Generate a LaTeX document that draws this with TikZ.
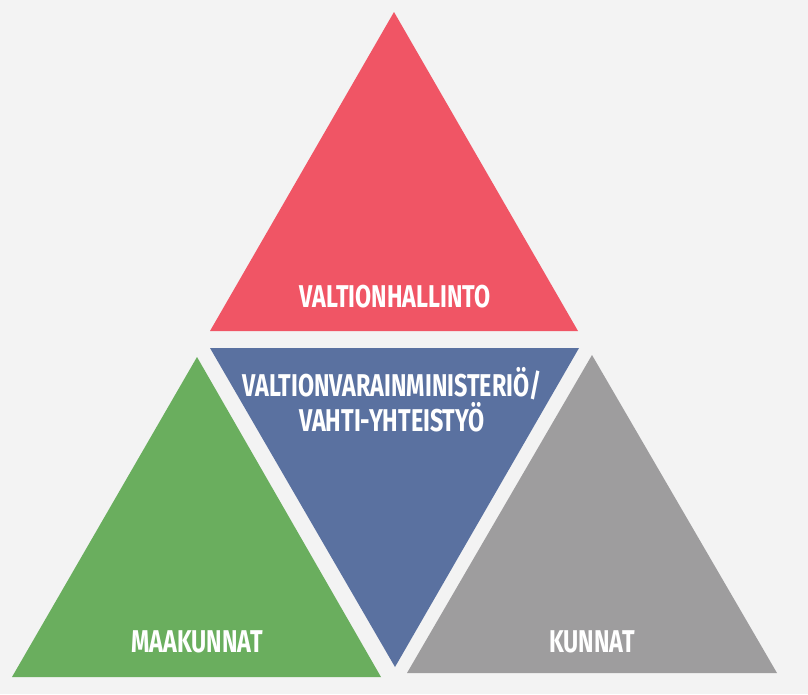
\documentclass[tikz,border=0pt]{standalone}
\usepackage{fontspec}
\setmainfont{Fira Sans}[FakeStretch=0.74]
\usetikzlibrary{positioning}

\definecolor{bgGray}{HTML}{F3F3F3}
\definecolor{stateRed}{HTML}{F05565}
\definecolor{vmBlue}{HTML}{5A71A0}
\definecolor{regionGreen}{HTML}{6AAE5E}
\definecolor{townGray}{HTML}{9E9D9E}

\begin{document}
\begin{tikzpicture}[x=1pt, y=-1pt,
	label/.style={text=white, font=\fontsize{31.5}{35}\selectfont\bfseries, align=center, inner sep=0pt}]

	% background and page size
	\fill[bgGray] (0,0) rectangle (808,694);
	\useasboundingbox (0,0) rectangle (808,694);

	% the four triangles
	\fill[stateRed] (394,12) -- (578,331) -- (210,331) -- cycle;
	\fill[vmBlue] (210,348) -- (579,348) -- (395,667) -- cycle;
	\fill[regionGreen] (197,357) -- (381,677) -- (12,677) -- cycle;
	\fill[townGray] (592,355) -- (777,673) -- (407,673) -- cycle;

	% texts
	\node[label] (valtio) at (395,297) {VALTIONHALLINTO};
	\node[label] (vm) at (392,400) {VALTIONVARAINMINISTERIÖ/\\VAHTI-YHTEISTYÖ};
	\node[label] (maakunnat) at (197,642) {MAAKUNNAT};
	\node[label] (kunnat) at (592,642) {KUNNAT};

\end{tikzpicture}
\end{document}
